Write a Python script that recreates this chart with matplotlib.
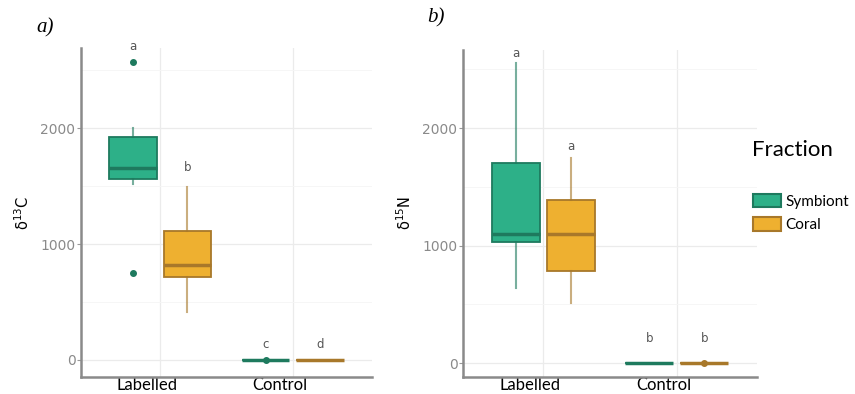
import matplotlib
matplotlib.use("Agg")
import matplotlib.pyplot as plt
import matplotlib.transforms as mtransforms
from matplotlib.patches import Patch
import numpy as np

# treatments and fractions
groups = ["Labelled", "Control"]
fractions = ["Symbiont", "Coral"]
fill_cols = ["#2db088", "#eeb030"]
edge_cols = ["#1e7a5e", "#a8782a"]

# box statistics, per panel: [Symbiont, Coral] for each group (Labelled, Control)
# (whislo, q1, med, q3, whishi)
c13_stats = {
    "Symbiont": [(1517, 1560, 1655, 1922, 2000), (0, 0, 0, 0, 0)],
    "Coral": [(414, 716, 819, 1112, 1491), (0, 0, 0, 0, 0)],
}
c13_fliers = {"Symbiont": [[2570, 750], [0]], "Coral": [[], []]}
c13_letters = {"Symbiont": ["a", "c"], "Coral": ["b", "d"]}
c13_letter_y = {"Symbiont": [2700, 130], "Coral": [1664, 130]}

n15_stats = {
    "Symbiont": [(638, 1030, 1098, 1702, 2553), (0, 0, 0, 0, 0)],
    "Coral": [(511, 783, 1098, 1387, 1745), (0, 0, 0, 0, 0)],
}
n15_fliers = {"Symbiont": [[], []], "Coral": [[], [0]]}
n15_letters = {"Symbiont": ["a", "b"], "Coral": ["a", "b"]}
n15_letter_y = {"Symbiont": [2638, 213], "Coral": [1847, 213]}

yticks = [0, 1000, 2000]

fig = plt.figure(figsize=(8.55, 3.94), dpi=100)
ax1 = fig.add_axes([0.0947, 0.0431, 0.3404, 0.835])
ax2 = fig.add_axes([0.5415, 0.0431, 0.3439, 0.830])


def draw_panel(ax, stats, fliers, letters, letter_y, ylim, ylabel):
    x = np.arange(1, len(groups) + 1)
    offsets = [-0.205, 0.205]
    for k, fr in enumerate(fractions):
        bxp = []
        for g in range(len(groups)):
            lo, q1, med, q3, hi = stats[fr][g]
            bxp.append(dict(whislo=lo, q1=q1, med=med, q3=q3, whishi=hi,
                            fliers=fliers[fr][g]))
        pos = x + offsets[k]
        ax.bxp(bxp, positions=pos, widths=0.36, patch_artist=True,
               showcaps=False, manage_ticks=False,
               boxprops=dict(facecolor=fill_cols[k], edgecolor=edge_cols[k],
                             linewidth=1.3),
               medianprops=dict(color=edge_cols[k], linewidth=2.5),
               whiskerprops=dict(color=edge_cols[k], linewidth=1.5,
                                 alpha=0.6),
               flierprops=dict(marker="o", markersize=4,
                               markerfacecolor=edge_cols[k],
                               markeredgecolor=edge_cols[k]))
        for g in range(len(groups)):
            ax.text(pos[g], letter_y[fr][g], letters[fr][g], ha="center",
                    va="center", fontsize=8.5, color="#555555")
    ax.set_xlim(0.4, 2.6)
    ax.set_ylim(*ylim)
    ax.set_xticks(x)
    ax.set_xticklabels(groups, fontsize=12, family="Lato")
    ax.tick_params(axis="x", length=0, pad=0)
    # tick labels sit a little left of the category centres in the original
    shift = mtransforms.ScaledTranslation(-13 / 100, 0, fig.dpi_scale_trans)
    for lab in ax.get_xticklabels():
        lab.set_transform(lab.get_transform() + shift)
    ax.set_yticks(yticks)
    ax.set_yticklabels([str(v) for v in yticks], fontsize=10, color="#8a8a8a")
    ax.tick_params(axis="y", length=3, color="#999999", pad=1)
    ax.set_yticks([500, 1500, 2500], minor=True)
    ax.tick_params(axis="y", which="minor", length=0)
    ax.grid(True, which="major", color="#ebebeb", linewidth=0.9)
    ax.grid(True, which="minor", axis="y", color="#f5f5f5", linewidth=0.6)
    ax.set_axisbelow(True)
    for s in ["top", "right"]:
        ax.spines[s].set_visible(False)
    for s in ["left", "bottom"]:
        ax.spines[s].set_color("#8a8a8a")
        ax.spines[s].set_linewidth(1.8)
    ax.set_ylabel(ylabel, fontsize=10.5, labelpad=6)


draw_panel(ax1, c13_stats, c13_fliers, c13_letters, c13_letter_y,
           (-147, 2690), r"δ$^{13}$C")
draw_panel(ax2, n15_stats, n15_fliers, n15_letters, n15_letter_y,
           (-119, 2664), r"δ$^{15}$N")

fig.text(0.043, 0.93, "a)", fontsize=15, style="italic",
         family="Liberation Serif", va="center")
fig.text(0.500, 0.955, "b)", fontsize=15, style="italic",
         family="Liberation Serif", va="center")

# legend
fig.text(752 / 855, 1 - 150 / 394, "Fraction", fontsize=16, family="Lato",
         va="center", ha="left")
handles = [Patch(facecolor=fill_cols[k], edgecolor=edge_cols[k], linewidth=1.5)
           for k in range(len(fractions))]
leg = fig.legend(handles, fractions, loc="upper left",
                 bbox_to_anchor=(745 / 855, 1 - 186 / 394), frameon=False,
                 fontsize=11, handlelength=1.85, handleheight=1.0,
                 handletextpad=0.3, labelspacing=0.55, borderpad=0)
for t in leg.get_texts():
    t.set_family("Lato")

fig.savefig("out.png", dpi=100)
